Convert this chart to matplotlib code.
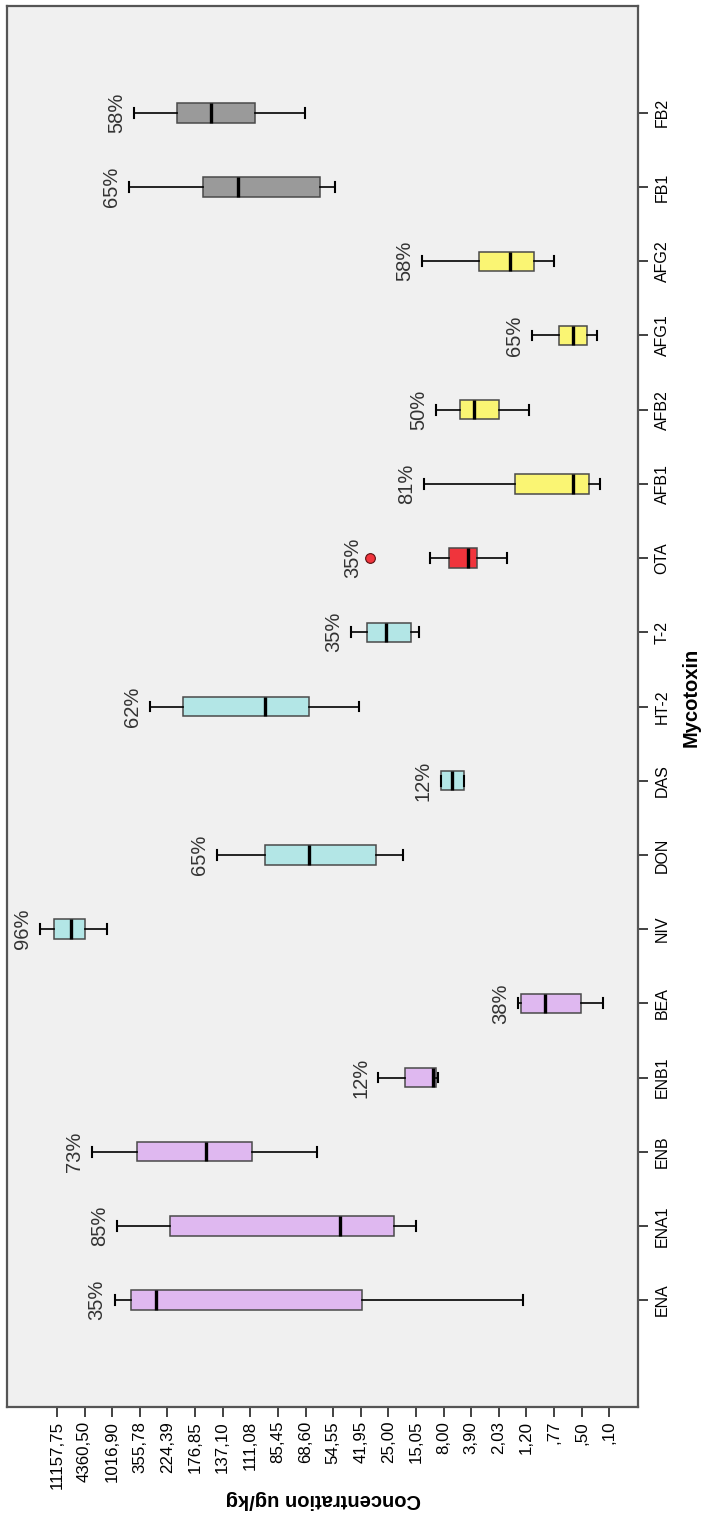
import matplotlib
matplotlib.use("Agg")
import matplotlib.pyplot as plt

plt.rcParams['font.family'] = ['Liberation Sans', 'DejaVu Sans']

# Mycotoxins, bottom (first) to top (last)
categories = ['ENA', 'ENA1', 'ENB', 'ENB1', 'BEA', 'NIV', 'DON', 'DAS', 'HT-2',
              'T-2', 'OTA', 'AFB1', 'AFB2', 'AFG1', 'AFG2', 'FB1', 'FB2']

# Ordinal concentration axis (ug/kg): tick labels, equally spaced
conc_ticks = ['11157,75', '4360,50', '1016,90', '355,78', '224,39', '176,85',
              '137,10', '111,08', '85,45', '68,60', '54,55', '41,95', '25,00',
              '15,05', '8,00', '3,90', '2,03', '1,20', ',77', ',50', ',10']

# Box statistics, as positions on the ordinal axis (0 = 11157,75 ... 20 = ,10)
upper_whisker = [2.09, 2.19, 1.28, 11.63, 16.69, -0.60, 5.78, 13.90, 3.38,
                 10.64, 13.50, 13.30, 13.72, 17.20, 13.22, 2.59, 2.79]
q3 = [2.68, 4.08, 2.88, 12.60, 16.80, -0.11, 7.55, 13.90, 4.57,
      11.21, 14.20, 16.58, 14.59, 18.18, 15.29, 5.28, 4.36]
median = [3.58, 10.24, 5.38, 13.62, 17.67, 0.50, 9.14, 14.31, 7.55,
          11.91, 14.89, 18.67, 15.10, 18.67, 16.39, 6.56, 5.58]
q1 = [11.05, 12.22, 7.07, 13.72, 18.97, 1.00, 11.54, 14.74, 9.14,
      12.82, 15.21, 19.26, 15.99, 19.18, 17.28, 9.54, 7.18]
lower_whisker = [16.88, 13.01, 9.43, 13.78, 19.77, 1.81, 12.53, 14.74, 10.93,
                 13.12, 16.29, 19.66, 17.10, 19.57, 17.99, 10.06, 8.97]
outliers = {'OTA': [11.33]}

# Occurrence percentages
occurrence = [35, 85, 73, 12, 38, 96, 65, 12, 62, 35, 35, 81, 50, 65, 58, 65, 58]

# Toxin group of each mycotoxin
groups = ['emerging'] * 5 + ['trichothecene'] * 5 + ['ochratoxin'] + ['aflatoxin'] * 4 + ['fumonisin'] * 2
group_colors = {'emerging': '#DFB8F0', 'trichothecene': '#B3E6E6',
                'ochratoxin': '#F0343C', 'aflatoxin': '#FAF573', 'fumonisin': '#9A9A9A'}

fig = plt.figure(figsize=(7.04, 15.2), dpi=100)
ax = fig.add_axes([7 / 704, 1 - 1407 / 1520, (638 - 7) / 704, (1407 - 6) / 1520])
ax.set_facecolor('#F0F0F0')

stats = []
for i, name in enumerate(categories):
    stats.append(dict(label=name, whislo=upper_whisker[i], q1=q3[i], med=median[i],
                      q3=q1[i], whishi=lower_whisker[i], fliers=outliers.get(name, [])))

positions = list(range(len(categories)))
bp = ax.bxp(stats, positions=positions, widths=0.26, orientation='horizontal',
            patch_artist=True, showfliers=True,
            boxprops=dict(edgecolor='#4A4A4A', linewidth=1.1),
            medianprops=dict(color='black', linewidth=2.4, solid_capstyle='butt'),
            whiskerprops=dict(color='black', linewidth=1.2),
            capprops=dict(color='black', linewidth=1.5),
            flierprops=dict(marker='o', markerfacecolor='#F0343C', markeredgecolor='#5A1010',
                            markersize=7, markeredgewidth=0.8))
for patch, g in zip(bp['boxes'], groups):
    patch.set_facecolor(group_colors[g])

# Occurrence labels, to the left of the highest value
for i, name in enumerate(categories):
    left = min([upper_whisker[i], q3[i]] + outliers.get(name, []))
    ax.annotate(f'{occurrence[i]}%', xy=(left, i), xytext=(-8, 0),
                textcoords='offset pixels', ha='right', va='center',
                rotation=90, fontsize=14.5, color='#333333')

ax.set_xlim(-1.81, 21.04)
ax.set_ylim(-1.44, 17.44)
ax.set_xticks(range(len(conc_ticks)))
ax.set_xticklabels(conc_ticks, rotation=90, fontsize=12.2)
ax.set_yticks(positions)
ax.set_yticklabels(categories, rotation=90, fontsize=11.5, va='center')
ax.yaxis.tick_right()
ax.tick_params(axis='x', length=7, width=1.3, color='#333333', pad=3)
ax.tick_params(axis='y', length=7, width=1.3, color='#333333', pad=5)
for s in ax.spines.values():
    s.set_color('#555555')
    s.set_linewidth(1.6)

fig.text(691 / 704, 1 - 697 / 1520, 'Mycotoxin', rotation=90, ha='center', va='center',
         fontsize=14.5, fontweight='bold')
fig.text(323 / 704, 1 - 1500 / 1520, 'Concentration ug/kg', rotation=180, ha='center',
         va='center', fontsize=14.5, fontweight='bold')

fig.savefig('out.png', dpi=100, facecolor='white')
